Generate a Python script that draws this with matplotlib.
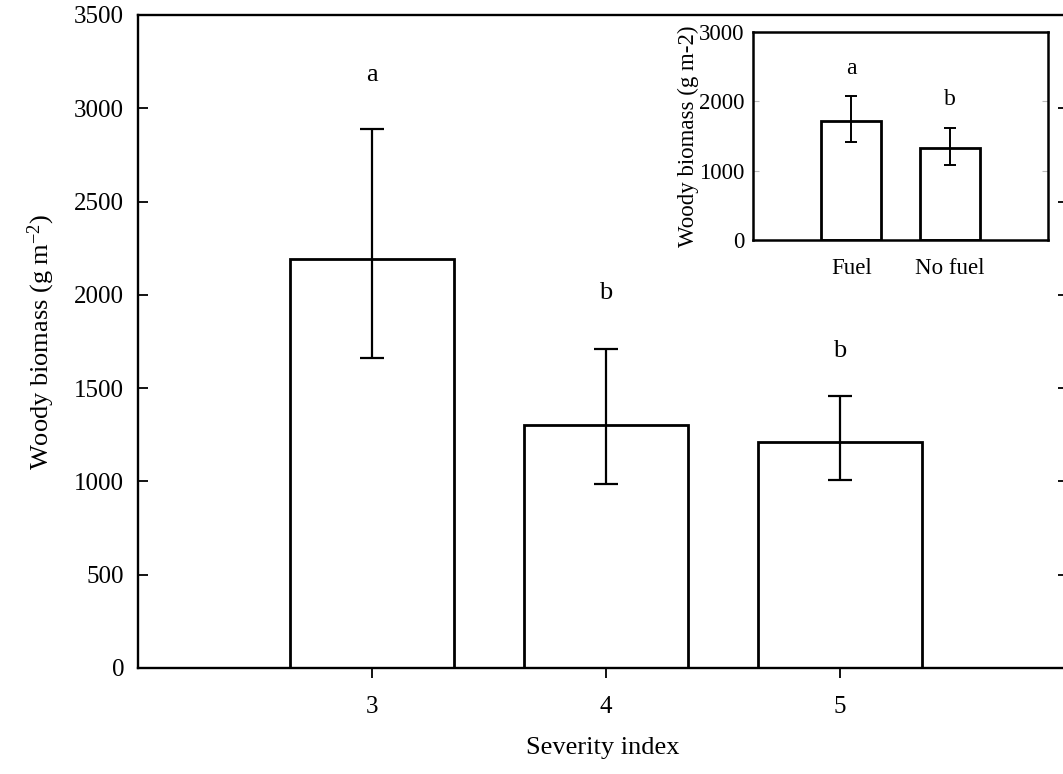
import matplotlib
matplotlib.use("Agg")
import matplotlib.pyplot as plt

plt.rcParams['font.family'] = ['Liberation Serif', 'DejaVu Serif']
plt.rcParams['mathtext.fontset'] = 'custom'
plt.rcParams['mathtext.rm'] = 'Liberation Serif'
plt.rcParams['mathtext.it'] = 'Liberation Serif:italic'

# Main panel data
severity = [3, 4, 5]
biomass = [2190, 1300, 1210]
err_low = [530, 315, 200]
err_high = [700, 410, 245]
letters = ['a', 'b', 'b']
letter_y = [3180, 2010, 1700]

# Inset data
fuel_cats = ['Fuel', 'No fuel']
fuel_biomass = [1715, 1330]
fuel_err_low = [305, 250]
fuel_err_high = [365, 290]
fuel_letters = ['a', 'b']
fuel_letter_y = [2480, 2020]

fig = plt.figure(figsize=(10.63, 7.74), dpi=100)
ax = fig.add_axes([0.1298, 0.1370, 0.8749, 0.8437])

ax.bar(severity, biomass, width=0.70, color='white', edgecolor='black',
       linewidth=2.0, zorder=2)
ax.errorbar(severity, biomass, yerr=[err_low, err_high], fmt='none',
            ecolor='black', elinewidth=1.6, capsize=8.5, capthick=1.6, zorder=3)
for x, y, t in zip(severity, letter_y, letters):
    ax.text(x, y, t, ha='center', va='center', fontsize=19)

ax.set_xlim(2, 5.974)
ax.set_ylim(0, 3500)
ax.set_xticks(severity)
ax.set_yticks(range(0, 3501, 500))
ax.tick_params(axis='x', direction='out', length=7.2, width=1.3, labelsize=18, pad=13)
ax.tick_params(axis='y', direction='in', length=7.2, width=1.3, labelsize=18,
               right=True, pad=10)
for s in ax.spines.values():
    s.set_linewidth(1.7)
ax.set_xlabel('Severity index', fontsize=19, labelpad=14)
ax.set_ylabel(r'Woody biomass (g m$^{-2}$)', fontsize=19, labelpad=12)

# Inset
ins = fig.add_axes([0.7084, 0.6899, 0.2775, 0.2687])
ins.bar([1, 2], fuel_biomass, width=0.61, color='white', edgecolor='black',
        linewidth=2.0, zorder=2)
ins.errorbar([1, 2], fuel_biomass, yerr=[fuel_err_low, fuel_err_high], fmt='none',
             ecolor='black', elinewidth=1.4, capsize=4, capthick=1.4, zorder=3)
for x, y, t in zip([1, 2], fuel_letter_y, fuel_letters):
    ins.text(x, y, t, ha='center', va='center', fontsize=17)
ins.set_xlim(0, 3)
ins.set_ylim(0, 3000)
ins.set_xticks([1, 2])
ins.set_xticklabels(fuel_cats)
ins.set_yticks([0, 1000, 2000, 3000])
ins.tick_params(axis='x', length=0, labelsize=16.5, pad=13)
ins.tick_params(axis='y', direction='in', length=4, width=0.8, color='#bbbbbb',
                labelsize=16.5, pad=6, right=True)
for s in ins.spines.values():
    s.set_linewidth(1.8)
ins.set_ylabel('Woody biomass (g m-2)', fontsize=16.5, labelpad=0)

fig.savefig('out.png', dpi=100)
